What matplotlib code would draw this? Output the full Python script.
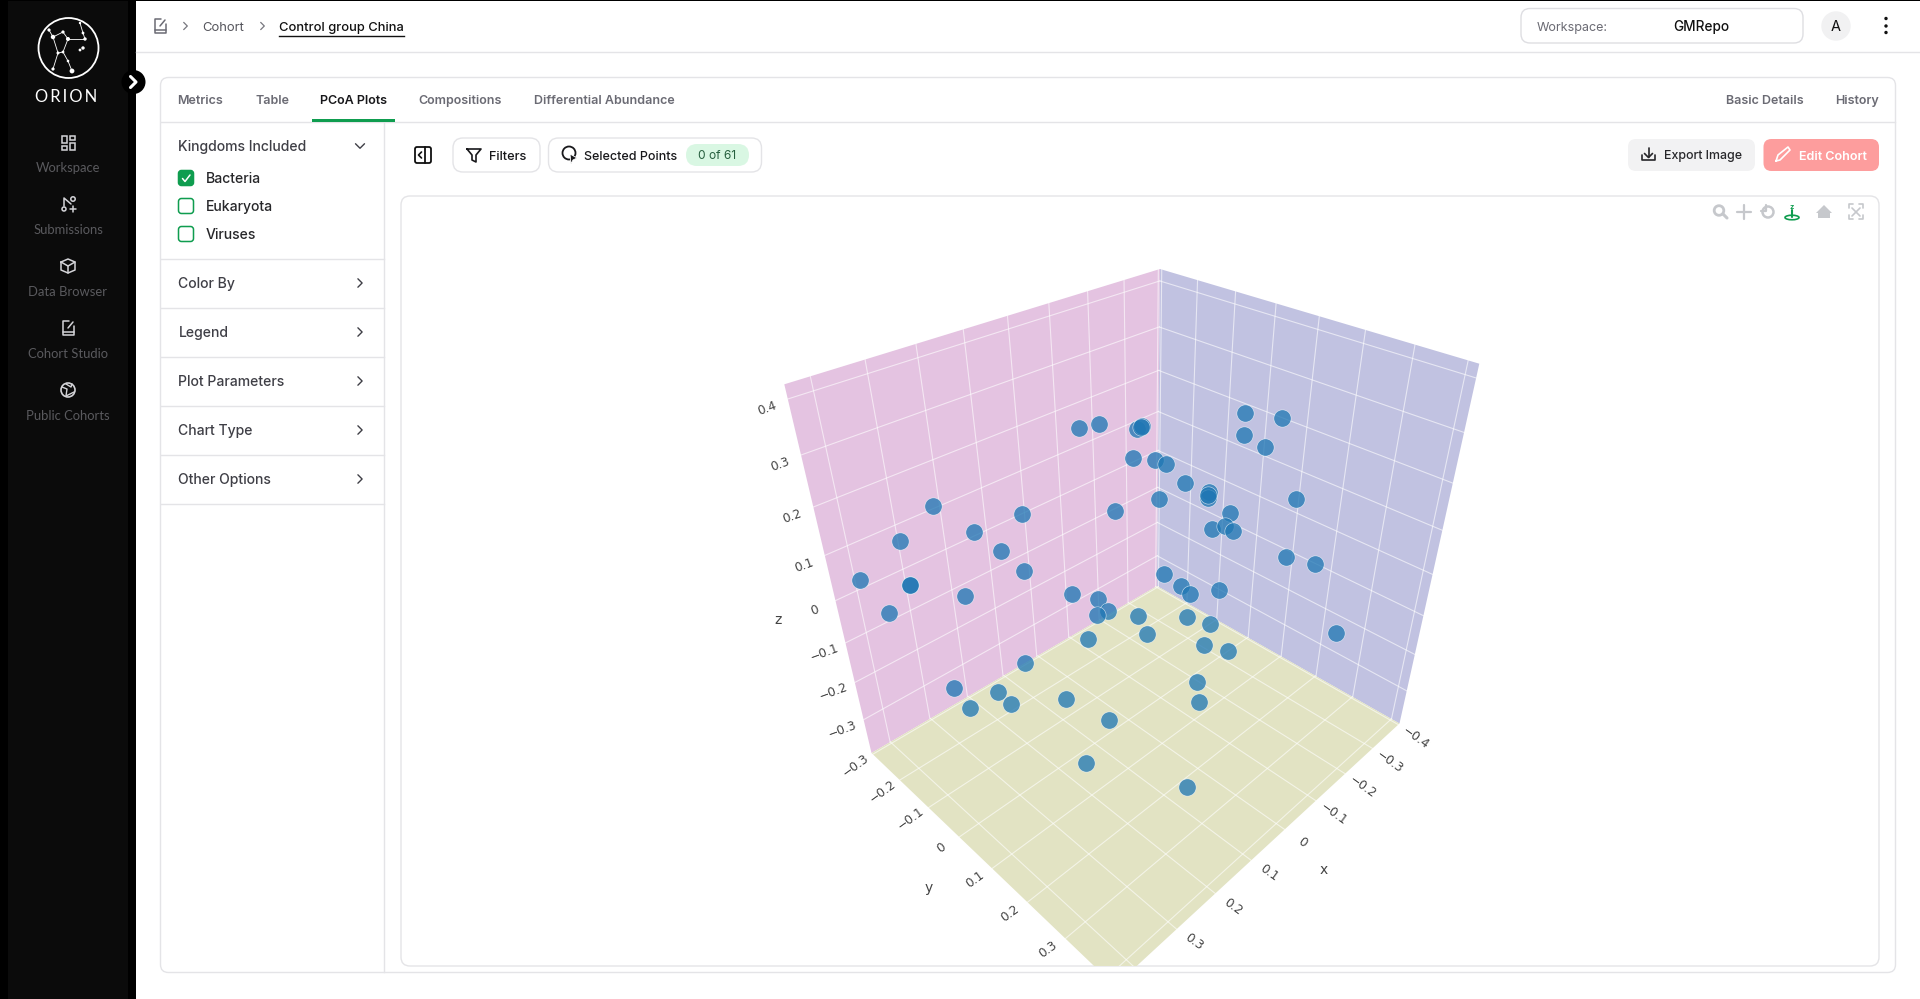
#!/usr/bin/env python

from matplotlib import pyplot as plt
from matplotlib.patches import Circle, Ellipse, FancyBboxPatch, Polygon, Rectangle
import numpy as np

# point positions (the chart plane, pixels of the 1920x999 shot)
point_sx = [1078.7, 1098.6, 1136.8, 1141.9, 1141.0, 1132.8, 1155.2, 1166.4, 1184.8, 1208.8,
            1207.8, 1208.3, 1158.8, 1115.4, 1229.7, 1212.3, 1225.1, 1232.8, 1245.0, 1282.2,
            1244.0, 1265.4, 1295.5, 1285.8, 1315.4, 1164.4, 1181.2, 1190.4, 1218.5, 932.8,
            1022.0, 900.1, 973.6, 1000.6, 1023.6, 860.3, 910.3, 910.3, 964.9, 889.4,
            1072.0, 1097.6, 1108.3, 1096.5, 1138.4, 1187.3, 1210.3, 1335.8, 1088.4, 1146.5,
            1203.7, 1227.7, 1024.6, 1196.5, 953.7, 997.6, 1011.3, 969.5, 1065.9, 1199.1,
            1108.8, 1086.3, 1187.3]
point_sy = [428.0, 424.0, 428.7, 426.0, 427.0, 458.3, 460.0, 464.0, 483.0, 491.7,
            498.3, 495.0, 498.7, 511.3, 513.3, 529.3, 526.0, 531.3, 413.3, 417.7,
            435.3, 447.0, 499.0, 557.0, 564.3, 573.7, 585.7, 594.0, 590.0, 506.3,
            513.7, 541.0, 531.7, 550.7, 570.7, 580.3, 585.0, 585.0, 596.0, 613.0,
            593.7, 599.0, 611.3, 615.0, 615.7, 616.7, 624.0, 632.7, 639.0, 633.7,
            645.0, 651.0, 662.7, 681.7, 688.3, 692.3, 703.7, 708.3, 699.0, 702.3,
            720.0, 763.0, 787.0]

x_ticks = [-0.4, -0.3, -0.2, -0.1, 0, 0.1, 0.2, 0.3, 0.4]
y_ticks = [-0.3, -0.2, -0.1, 0, 0.1, 0.2, 0.3, 0.4]
z_ticks = [-0.3, -0.2, -0.1, 0, 0.1, 0.2, 0.3, 0.4]
x_range = (-0.405, 0.445)
y_range = (-0.305, 0.42)
z_range = (-0.395, 0.425)

nav_items = ["Workspace", "Submissions", "Data Browser", "Cohort Studio", "Public Cohorts"]
tabs_left = ["Metrics", "Table", "PCoA Plots", "Compositions", "Differential Abundance"]
tabs_right = ["Basic Details", "History"]
kingdoms = ["Bacteria", "Eukaryota", "Viruses"]
sections = ["Color By", "Legend", "Plot Parameters", "Chart Type", "Other Options"]

INK = "#27272a"
MUTED = "#6b6b74"
LINE = "#e4e4e7"
GREEN = "#0f9d4f"

plt.rcParams["font.family"] = ["Inter", "DejaVu Sans"]

fig = plt.figure(figsize=(19.2, 9.99), dpi=100)
ax = fig.add_axes([0, 0, 1, 1])
ax.set_xlim(0, 1920)
ax.set_ylim(999, 0)
ax.axis("off")


def label(x, y, s, size=13, color=INK, weight="normal", ha="left", **kw):
    # y is the middle of the capitals, so set it by the baseline
    ax.text(x, y + size * 0.36, s, fontsize=size * 0.72, color=color, fontweight=weight, ha=ha, va="baseline", **kw)


def box(x0, y0, x1, y1, r=8, fc="white", ec=LINE, lw=1.0, z=1):
    ax.add_patch(FancyBboxPatch((x0, y0), x1 - x0, y1 - y0, boxstyle=f"round,pad=0,rounding_size={r}",
                                fc=fc, ec=ec, lw=lw, zorder=z))


def stroke(xs, ys, color=INK, lw=1.1, z=5):
    ax.plot(xs, ys, color=color, lw=lw, zorder=z, solid_capstyle="round", solid_joinstyle="round")


def chevron(x, y, way="right", s=4, color=INK, lw=1.0):
    if way == "right":
        stroke([x - s / 2, x + s / 2, x - s / 2], [y - s, y, y + s], color, lw)
    else:
        stroke([x - s, x, x + s], [y - s / 2, y + s / 2, y - s / 2], color, lw)


def note_icon(x, y, color, lw=1.1):
    # the little notebook used for the cohort pages
    stroke([x + 1, x - 5, x - 5, x + 6, x + 6], [y - 7, y - 7, y + 7, y + 7, y - 2], color, lw)
    stroke([x - 5, x + 6], [y + 4, y + 4], color, lw)
    stroke([x, x + 5], [y, y - 6], color, lw)


def homography(src, dst):
    rows, rhs = [], []
    for (u, v), (px, py) in zip(src, dst):
        rows.append([u, v, 1, 0, 0, 0, -u * px, -v * px])
        rows.append([0, 0, 0, u, v, 1, -u * py, -v * py])
        rhs += [px, py]
    h = np.linalg.solve(np.array(rows), np.array(rhs))
    return np.append(h, 1).reshape(3, 3)


def project(h, u, v):
    p = h @ np.array([u, v, 1.0])
    return p[:2] / p[2]


# page frame
ax.add_patch(Rectangle((0, 0), 1920, 999, fc="white", ec="none", zorder=0))
ax.add_patch(Rectangle((0, 0), 1920, 1.2, fc="black", ec="none", zorder=6))
ax.add_patch(Rectangle((0, 0), 136, 999, fc="black", ec="none", zorder=1))
ax.add_patch(Rectangle((8, 0), 120, 999, fc="#0b0b0b", ec="none", zorder=1))

# sidebar logo
star_x = [49, 53, 63, 68, 85, 83, 80, 83, 80, 58, 63, 68, 72, 53]
star_y = [30, 37, 32, 39, 39, 33, 23, 48, 50, 53, 52, 61, 71, 69]
star_r = [1.6, 2.2, 1.6, 2.0, 1.7, 1.4, 1.2, 1.7, 1.4, 1.5, 1.4, 1.3, 2.4, 1.6]
ax.add_patch(Circle((68.5, 48), 30, fc="none", ec="white", lw=1.3, zorder=3))
for a, b in [(0, 1), (1, 2), (2, 3), (3, 4), (4, 5), (5, 6), (1, 9), (9, 10), (10, 3), (9, 13), (10, 11), (11, 12)]:
    stroke([star_x[a], star_x[b]], [star_y[a], star_y[b]], "white", 0.6, 3)
for sx, sy, sr in zip(star_x, star_y, star_r):
    ax.add_patch(Circle((sx, sy), sr, fc="white", ec="none", zorder=4))
label(66.5, 96, "O\u2009R\u2009I\u2009O\u2009N", 16.5, "white", ha="center", family=["Lato", "DejaVu Sans"])

nav_y = [142, 204, 266, 328, 390]
for name, y in zip(nav_items, nav_y):
    label(68, y + 25, name, 13, "#5a5a5e", ha="center", family="Lato")
ic = "#d4d4d8"
ax.add_patch(Rectangle((62, 136), 4.5, 7, fc="none", ec=ic, lw=1.1, zorder=4))
ax.add_patch(Rectangle((70, 136), 4.5, 4, fc="none", ec=ic, lw=1.1, zorder=4))
ax.add_patch(Rectangle((62, 146), 4.5, 3.6, fc="none", ec=ic, lw=1.1, zorder=4))
ax.add_patch(Rectangle((70, 143), 4.5, 6.6, fc="none", ec=ic, lw=1.1, zorder=4))
ax.add_patch(Circle((64, 209), 2, fc="none", ec=ic, lw=1.1, zorder=4))
ax.add_patch(Circle((73, 199), 2.2, fc="none", ec=ic, lw=1.1, zorder=4))
stroke([64, 64, 71], [206, 198, 204], ic)
stroke([70, 76], [209, 209], ic)
stroke([73, 73], [206, 212], ic)
stroke([61, 68, 75, 75, 68, 61, 61], [262, 259, 262, 270, 273, 270, 262], ic)
stroke([61, 68, 75], [262, 266, 262], ic)
stroke([68, 68], [266, 273], ic)
note_icon(68, 328, ic)
ax.add_patch(Circle((68, 390), 7, fc="none", ec=ic, lw=1.2, zorder=4))
stroke([62, 67, 66, 74], [387, 389, 396, 392], ic, 1.0)
stroke([66, 71, 72], [384, 387, 384], ic, 1.0)

ax.add_patch(Circle((133.5, 82), 12, fc="black", ec="none", zorder=7))
stroke([130.5, 136, 130.5], [76.5, 82, 87.5], "white", 2.2, 8)

# header
ax.plot([136, 1920], [52.3, 52.3], color=LINE, lw=1.0, zorder=2)
note_icon(160, 26, "#6b6b74")
chevron(185.5, 26, color="#77777f", s=3.6, lw=0.9)
label(202, 26, "Cohort", 13, "#55555c")
chevron(262.5, 26, color="#77777f", s=3.6, lw=0.9)
label(279, 26, "Control group China", 12.9, "#111111", "medium")
ax.plot([279, 404], [36.3, 36.3], color="#111111", lw=1.0, zorder=3)
box(1521, 8.5, 1803, 43, 9, ec="#dedee2")
label(1537, 26, "Workspace:", 12.6, MUTED)
label(1701, 26, "GMRepo", 13.6, "#111111", "medium", ha="center")
ax.add_patch(Circle((1836, 26), 14.7, fc="#f1f1f2", ec="none", zorder=2))
label(1836, 26, "A", 14.5, "#111111", ha="center")
for y in (18.5, 26, 32.5):
    ax.add_patch(Circle((1886, y), 1.7, fc="#111111", ec="none", zorder=3))

# main card with tabs
box(160.5, 77.5, 1895.5, 972.5, 8, z=1)
ax.plot([161, 1895], [121.5, 121.5], color=LINE, lw=1.0, zorder=2)
ax.plot([384, 384], [122, 972], color=LINE, lw=1.0, zorder=2)
for name, x in zip(tabs_left, [177, 255, 320, 418.8, 534]):
    active = name == "PCoA Plots"
    label(x, 99.5, name, 12.5, "#18181b" if active else MUTED, "semibold")
ax.add_patch(Rectangle((312, 119), 83, 3, fc=GREEN, ec="none", zorder=3))
for name, x in zip(tabs_right, [1725.7, 1835.3]):
    label(x, 99.5, name, 12.5, MUTED, "semibold")

# left option panel
label(178.5, 146, "Kingdoms Included", 14, "#3f3f46", "medium")
chevron(360, 146, "down", 4.5, "#3f3f46")
for i, (name, y) in enumerate(zip(kingdoms, [178, 206, 234])):
    box(178.5, y - 7.5, 193.5, y + 7.5, 3, fc=GREEN if i == 0 else "white", ec=GREEN, lw=1.1, z=3)
    label(206, y, name, 14, "#27272a", "medium")
stroke([182.5, 185, 190], [178.5, 181.5, 175], "white", 1.1)
for name, y in zip(sections, [283, 332, 381, 430, 479]):
    label(178.5, y, name, 14, "#3f3f46", "medium")
    chevron(360, y, "right", 4.2, "#3f3f46", 1.0)
for y in (258.5, 307.5, 356.5, 405.5, 454.5, 503.5):
    ax.plot([161, 384], [y, y], color=LINE, lw=1.0, zorder=2)

# toolbar above the chart
box(415, 147, 431, 163, 2, ec="#111111", lw=1.3, z=3)
stroke([425, 425], [147, 163], "#111111", 1.3)
stroke([421.5, 418.5, 421.5], [152, 155, 158], "#111111", 1.2)
box(453, 138, 540, 172, 10)
stroke([467, 481, 476, 476, 472, 472, 467], [149, 149, 155, 162, 160, 155, 149], "#18181b", 1.2)
label(489, 155, "Filters", 12.7, "#18181b", "medium")
box(548.5, 138, 761.5, 172, 10)
ax.add_patch(Circle((569, 153), 6.5, fc="none", ec="#18181b", lw=1.3, zorder=4))
ax.add_patch(Polygon([(570, 154), (577, 158), (573, 160), (571, 164)], fc="#18181b", ec="white", lw=0.6, zorder=5))
label(584, 155, "Selected Points", 12.5, "#18181b", "medium")
box(686, 144, 749, 166, 11, fc="#d9f7e3", ec="none", z=3)
label(717.5, 155, "0 of 61", 12, "#27603f", ha="center", zorder=5)
box(1628, 139, 1755, 171, 8, fc="#f2f2f3", ec="none")
stroke([1642, 1642, 1655, 1655], [155, 160, 160, 155], "#27272a", 1.2)
stroke([1648.5, 1648.5], [148, 157], "#27272a", 1.2)
stroke([1644.5, 1648.5, 1652.5], [153.5, 157.5, 153.5], "#27272a", 1.2)
label(1664, 155, "Export Image", 12.4, "#27272a", "medium")
box(1763.5, 139, 1879, 171, 8, fc="#fd9d9d", ec="none")
stroke([1776, 1778, 1788, 1790, 1780, 1776], [161, 155, 147, 150, 160, 161], "white", 1.2)
label(1799.3, 155, "Edit Cohort", 12.6, "white", "semibold")

# chart card
box(401, 196, 1879, 966, 9, z=1)
mode = "#c6c8cc"
ax.add_patch(Circle((1719, 210.5), 4.8, fc="none", ec=mode, lw=2, zorder=4))
stroke([1723, 1727], [214, 218], mode, 2.2)
stroke([1737, 1751], [212, 212], mode, 1.6)
stroke([1744, 1744], [205, 219], mode, 1.6)
ax.add_patch(Circle((1768, 212), 5.5, fc="none", ec=mode, lw=1.8, zorder=4))
stroke([1766, 1766, 1761], [205, 211, 211], mode, 1.6)
stroke([1792, 1792], [210, 217], GREEN, 1.5)
label(1792, 206, "z", 7.5, GREEN, "bold", ha="center")
ax.add_patch(Ellipse((1792, 217.5), 14, 4.5, fc="none", ec=GREEN, lw=1.2, zorder=4))
ax.add_patch(Polygon([(1816, 213), (1824, 205), (1832, 213), (1830, 213), (1830, 218), (1818, 218), (1818, 213)],
                     fc=mode, ec="none", zorder=4))
stroke([1849, 1849, 1853], [208, 204, 204], mode, 1.2)
stroke([1859, 1863, 1863], [204, 204, 208], mode, 1.2)
stroke([1849, 1849, 1853], [215, 219, 219], mode, 1.2)
stroke([1859, 1863, 1863], [219, 219, 215], mode, 1.2)
stroke([1852, 1860], [208, 216], mode, 1.2)
stroke([1860, 1852], [208, 216], mode, 1.2)

# 3d box: one plane map for each wall, from the corners on screen
back_low, back_high = (1157, 586), (1160, 269)
left_low, left_high = (871.5, 753), (784.3, 384.3)
right_low, right_high = (1399.5, 723.5), (1479.3, 363.7)
front = (1115, 986)

xz_wall = homography([(x_range[0], z_range[0]), (x_range[1], z_range[0]), (x_range[1], z_range[1]), (x_range[0], z_range[1])],
                     [back_low, left_low, left_high, back_high])
yz_wall = homography([(y_range[0], z_range[0]), (y_range[1], z_range[0]), (y_range[1], z_range[1]), (y_range[0], z_range[1])],
                     [back_low, right_low, right_high, back_high])
floor = homography([(x_range[0], y_range[0]), (x_range[1], y_range[0]), (x_range[1], y_range[1]), (x_range[0], y_range[1])],
                   [back_low, left_low, front, right_low])

clip = Rectangle((401, 196), 1478, 770, transform=ax.transData)
for corners, colour in [([back_low, left_low, left_high, back_high], "#e4c3e1"),
                        ([back_low, right_low, right_high, back_high], "#c1c2e1"),
                        ([back_low, left_low, front, right_low], "#e2e3c3")]:
    patch = Polygon(corners, fc=colour, ec="none", zorder=2)
    ax.add_patch(patch)
    patch.set_clip_path(clip)


def grid_line(h, a, b, lw=0.8):
    (x0, y0), (x1, y1) = project(h, *a), project(h, *b)
    line, = ax.plot([x0, x1], [y0, y1], color="white", alpha=0.6, lw=lw, zorder=3)
    line.set_clip_path(clip)


for t in x_ticks:
    grid_line(floor, (t, y_range[0]), (t, y_range[1]))
    grid_line(xz_wall, (t, z_range[0]), (t, z_range[1]))
for t in y_ticks:
    grid_line(floor, (x_range[0], t), (x_range[1], t))
    grid_line(yz_wall, (t, z_range[0]), (t, z_range[1]))
for t in z_ticks:
    grid_line(xz_wall, (x_range[0], t), (x_range[1], t))
    grid_line(yz_wall, (y_range[0], t), (y_range[1], t))


def tick_text(v):
    return "0" if v == 0 else f"{v:.1f}".replace("-", "\u2212")


for t in x_ticks[:-1]:
    px, py = project(floor, t, y_range[1])
    ax.text(px + 17.5, py + 13, tick_text(t), rotation=-36, rotation_mode="anchor", ha="center", va="center",
            fontsize=8.8, color="#444444", family="DejaVu Sans", zorder=4)
for t in y_ticks[:-1]:
    px, py = project(floor, x_range[1], t)
    ax.text(px - 17.5, py + 11, tick_text(t), rotation=36, rotation_mode="anchor", ha="center", va="center",
            fontsize=8.8, color="#444444", family="DejaVu Sans", zorder=4)
for t in z_ticks:
    px, py = project(xz_wall, x_range[1], t)
    ax.text(px - 21, py + 9.5, tick_text(t), rotation=20, rotation_mode="anchor", ha="center", va="center",
            fontsize=8.8, color="#444444", family="DejaVu Sans", zorder=4)
for s, px, py in [("x", 1323.3, 870), ("y", 928.3, 888.3), ("z", 778.3, 620)]:
    ax.text(px, py, s, ha="center", va="center", fontsize=10, color="#444444", family="DejaVu Sans", zorder=4)

ax.scatter(point_sx, point_sy, s=155, c="#1f77b4", alpha=0.76, edgecolors="white", linewidths=0.4, zorder=6)

fig.savefig("out.png", dpi=100)
